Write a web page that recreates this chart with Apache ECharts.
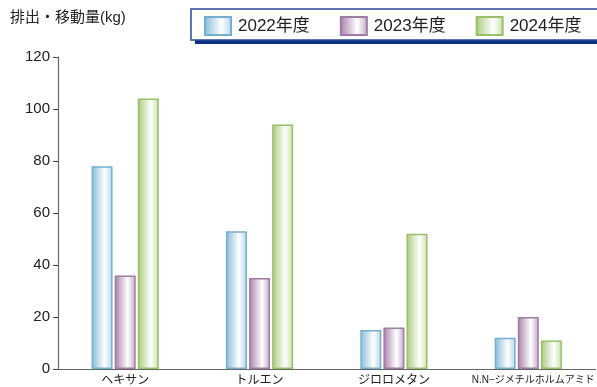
<!DOCTYPE html>
<html><head><meta charset="utf-8">
<script src="https://cdn.jsdelivr.net/npm/echarts@6/dist/echarts.min.js"></script>
<style>html,body{margin:0;padding:0;background:#fff}#c{width:597px;height:387px}</style>
</head><body><div id="c"></div>
<script>
const categories = ['ヘキサン', 'トルエン', 'ジロロメタン', 'N.N−ジメチルホルムアミド'];
const seriesNames = ['2022年度', '2023年度', '2024年度'];
const values2022 = [78, 53, 15, 12];
const values2023 = [36, 35, 16, 20];
const values2024 = [104, 94, 52, 11];
const yTicks = [0, 20, 40, 60, 80, 100, 120];
const yTitle = '排出・移動量(kg)';

function grad(edge, edge2) {
  return new echarts.graphic.LinearGradient(0, 0, 1, 0, [
    {offset: 0, color: edge}, {offset: 0.62, color: '#ffffff'}, {offset: 1, color: edge2}
  ]);
}
const styles = [
  {color: grad('#86bbd8', '#b2d6e8'), borderColor: '#74afd0'},
  {color: grad('#a580a8', '#c4a8c6'), borderColor: '#a07ba3'},
  {color: grad('#a8c97a', '#c9e0a8'), borderColor: '#98c068'}
];
const data = [values2022, values2023, values2024];
const font = 'Liberation Sans, Noto Sans CJK JP, sans-serif';

const chart = echarts.init(document.getElementById('c'));
chart.setOption({
  animation: false,
  textStyle: {fontFamily: font},
  graphic: [
    {type: 'rect', shape: {x: 195, y: 12, width: 420, height: 32}, style: {fill: '#0d3184'}, z: 0},
    {type: 'rect', shape: {x: 191, y: 9, width: 420, height: 31}, style: {fill: '#fff', stroke: '#2a4a96', lineWidth: 1.5}, z: 1},
    {type: 'text', left: 10, top: 10, style: {text: yTitle, font: '15px ' + font, fill: '#222'}}
  ],
  legend: {
    left: 204, top: 16, padding: 0, itemWidth: 26, itemHeight: 18, itemGap: 30, icon: 'rect',
    data: seriesNames, z: 10,
    textStyle: {fontSize: 17, color: '#222', fontFamily: font, padding: [0, 0, 0, 2]}
  },
  grid: {left: 58, top: 57, bottom: 18, right: -5},
  xAxis: {
    type: 'category', data: categories,
    axisLine: {lineStyle: {color: '#666', width: 1.2}},
    axisTick: {inside: true, length: 6, lineStyle: {color: '#444'}},
    axisLabel: {
      color: '#222', fontSize: 12, margin: 6, interval: 0,
      formatter: (v, i) => i === 3 ? '{s|' + v + '}' : v,
      rich: {s: {fontSize: 10, color: '#222', padding: [0, 0, 0, 10]}}
    }
  },
  yAxis: {
    type: 'value', min: 0, max: 120, interval: 20,
    axisLine: {show: true, lineStyle: {color: '#666', width: 1.2}},
    axisTick: {show: true, length: 5, lineStyle: {color: '#444'}},
    splitLine: {show: false},
    axisLabel: {color: '#222', fontSize: 15, margin: 8,
      formatter: v => yTicks.includes(v) ? String(v) : ''}
  },
  series: seriesNames.map((n, i) => ({
    name: n, type: 'bar', data: data[i], barWidth: 21, barGap: '10%',
    itemStyle: {color: styles[i].color, borderColor: styles[i].borderColor, borderWidth: 1.5}
  }))
});
</script></body></html>
